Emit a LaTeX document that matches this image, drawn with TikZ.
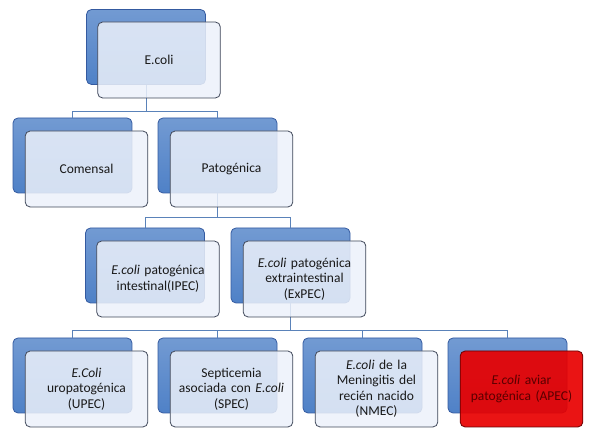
\documentclass[tikz,border=0pt]{standalone}
\usepackage{fontspec}
\setmainfont{Carlito}
\usepackage{tikz}
\usetikzlibrary{positioning,calc}

\definecolor{backblue}{RGB}{79,129,199}
\definecolor{backedge}{RGB}{52,90,160}
\definecolor{frontfill}{RGB}{236,241,250}
\definecolor{frontedge}{RGB}{62,70,88}
\definecolor{linkblue}{RGB}{90,130,185}
\definecolor{apecred}{RGB}{232,0,0}

\begin{document}
\begin{tikzpicture}[
  x=1pt, y=-1pt,
  font=\fontsize{13.5}{15.5}\selectfont,
  back/.style={draw=backedge, rounded corners=5pt, minimum width=119pt,
    minimum height=75pt, top color=backblue!80!white, bottom color=backblue,
    line width=0.8pt},
  front/.style={draw=frontedge, rounded corners=5pt, minimum width=120pt,
    minimum height=76pt, fill=frontfill, fill opacity=0.85, text opacity=1,
    text width=116pt, align=center, line width=0.8pt, text=black!90},
  link/.style={draw=linkblue, line width=0.7pt}
]
\useasboundingbox (0,0) rectangle (590,435);

% shadow boxes
\node[back] (ecolib) at (146,47) {};
\node[back] (comb) at (72.5,155.5) {};
\node[back] (patb) at (217.5,155.5) {};
\node[back] (ipecb) at (145,265.5) {};
\node[back] (expecb) at (290.5,265.5) {};
\node[back] (upecb) at (72.5,375.5) {};
\node[back] (specb) at (217.5,375.5) {};
\node[back] (nmecb) at (362.5,375.5) {};
\node[back] (apecb) at (507.5,375.5) {};

% connectors
\draw[link] (ecolib.south) -- ++(0,26) -| (comb.north);
\draw[link] (ecolib.south) -- ++(0,26) -| (patb.north);
\draw[link] (patb.south) -- ++(0,24) -| (ipecb.north);
\draw[link] (patb.south) -- ++(0,24) -| (expecb.north);
\draw[link] (expecb.south) -- ++(0,27) -| (upecb.north);
\draw[link] (expecb.south) -- ++(0,27) -| (specb.north);
\draw[link] (expecb.south) -- ++(0,27) -| (nmecb.north);
\draw[link] (expecb.south) -- ++(0,27) -| (apecb.north);

% text boxes
\node[front] (ecoli) at ($(ecolib)+(13,13)$) {E.coli};
\node[front] (com) at ($(comb)+(14,13.5)$) {Comensal};
\node[front] (pat) at ($(patb)+(14,13.5)$) {Patogénica};
\node[front] (ipec) at ($(ipecb)+(13,13.5)$) {\textit{E.coli} patogénica\\intestinal(IPEC)};
\node[front] (expec) at ($(expecb)+(14,13.5)$) {\textit{E.coli} patogénica\\extraintestinal\\(ExPEC)};
\node[front] (upec) at ($(upecb)+(14,13.5)$) {\textit{E.Coli}\\uropatogénica\\(UPEC)};
\node[front] (spec) at ($(specb)+(14,13.5)$) {Septicemia\\asociada con \textit{E.coli}\\(SPEC)};
\node[front] (nmec) at ($(nmecb)+(14,13.5)$) {\textit{E.coli} de la\\Meningitis del\\recién nacido\\(NMEC)};
\node[front, fill=apecred, fill opacity=0.92, draw=red!40!black, text=red!35!black]
  (apec) at ($(apecb)+(14,13.5)$) {\textit{E.coli} aviar\\patogénica (APEC)};
\end{tikzpicture}
\end{document}
